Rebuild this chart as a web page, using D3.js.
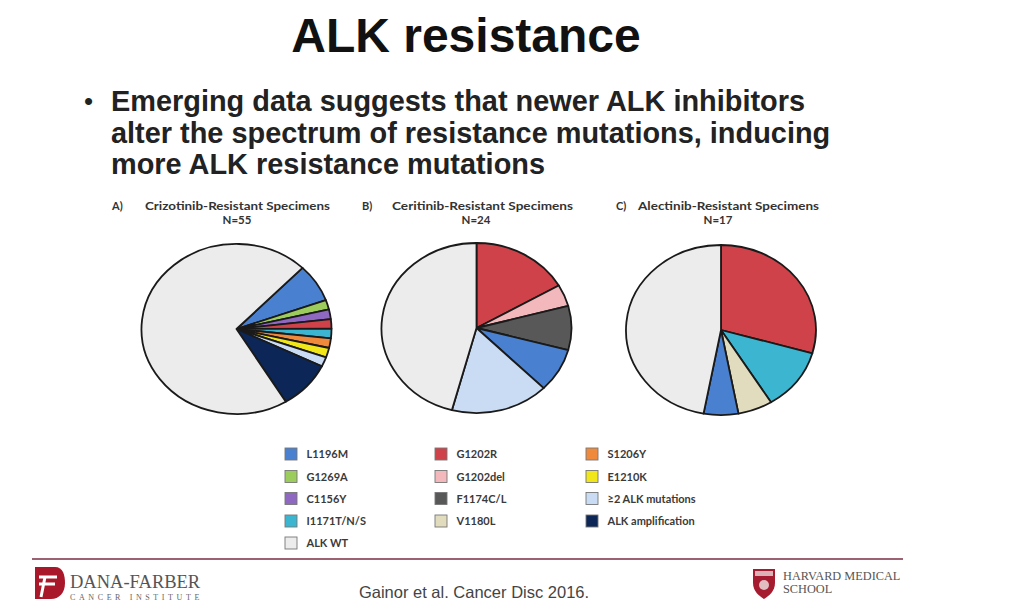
<!DOCTYPE html>
<html><head><meta charset="utf-8">
<script src="https://cdn.jsdelivr.net/npm/d3@7"></script>
<style>body{margin:0;background:#fff;} svg{display:block;}</style>
</head><body>
<svg id="c" width="1024" height="616"></svg>
<script>
// ---- data ----
const legendItems = ["L1196M","G1269A","C1156Y","I1171T/N/S","ALK WT",
  "G1202R","G1202del","F1174C/L","V1180L",
  "S1206Y","E1210K","≥2 ALK mutations","ALK amplification"];
const legendColors = ["#4a80d0","#9ccd5c","#8f68c2","#3cb6d0","#ececec",
  "#cf4249","#f2b8bb","#585858","#e2dcbf",
  "#ef8a3d","#f1e61a","#c9dcf4","#0b2657"];

const pieACats = ["L1196M","G1269A","C1156Y","G1202R","I1171T/N/S","S1206Y","E1210K","≥2 ALK mutations","ALK amplification","ALK WT"];
const pieAVals = [4,1,1,1,1,1,1,1,5,39];
const pieBCats = ["G1202R","G1202del","F1174C/L","L1196M","≥2 ALK mutations","ALK WT"];
const pieBVals = [4,1,2,2,4,11];
const pieCCats = ["G1202R","I1171T/N/S","V1180L","L1196M","ALK WT"];
const pieCVals = [5,2,1,1,8];

const pieTitles = ["Crizotinib-Resistant Specimens","Ceritinib-Resistant Specimens","Alectinib-Resistant Specimens"];
const pieLetters = ["A)","B)","C)"];
const pieN = ["N=55","N=24","N=17"];

const svg = d3.select("#c");
const color = d3.scaleOrdinal().domain(legendItems).range(legendColors);

// title
svg.append("text").attr("x",466).attr("y",52).attr("text-anchor","middle")
  .attr("font-family","Liberation Sans, Arial, sans-serif").attr("font-weight","bold")
  .attr("font-size",48).attr("fill","#111").text("ALK resistance");

// bullet
svg.append("text").attr("x",84).attr("y",110).attr("font-family","Liberation Sans, Arial, sans-serif")
  .attr("font-size",26).attr("fill","#222").text("•");
const lines = ["Emerging data suggests that newer ALK inhibitors",
  "alter the spectrum of resistance mutations, inducing",
  "more ALK resistance mutations"];
lines.forEach((t,i)=>{
  svg.append("text").attr("x",111).attr("y",111+i*31.5)
    .attr("font-family","Liberation Sans, Arial, sans-serif").attr("font-weight","bold")
    .attr("font-size",28.9).attr("fill","#222").text(t);
});

// pies
const pies = [
  {cats:pieACats, vals:pieAVals, cx:236.5, cy:329, start:44},
  {cats:pieBCats, vals:pieBVals, cx:476.5, cy:328, start:0},
  {cats:pieCCats, vals:pieCVals, cx:721, cy:330, start:0}
];
const R = 95, squash = 0.895;
const titlePos = [{lx:112, t0:145, t1:330, nx:237},{lx:362, t0:392, t1:573, nx:476},{lx:616, t0:638, t1:819, nx:718}];

pies.forEach((p,k)=>{
  const rad = p.start*Math.PI/180;
  const pie = d3.pie().sort(null).value(d=>d.v).startAngle(rad).endAngle(rad+2*Math.PI);
  const arcs = pie(p.cats.map((c,i)=>({c, v:p.vals[i]})));
  const arc = d3.arc().innerRadius(0).outerRadius(R);
  const g = svg.append("g").attr("transform",`translate(${p.cx},${p.cy}) scale(1,${squash})`);
  g.selectAll("path").data(arcs).join("path")
    .attr("d",arc).attr("fill",d=>color(d.data.c))
    .attr("stroke","#1a1a1a").attr("stroke-width",1.8)
    .attr("stroke-linejoin","round")
    .attr("vector-effect","non-scaling-stroke");
  const tp = titlePos[k];
  svg.append("text").attr("x",tp.lx).attr("y",210).attr("font-family","Lato, sans-serif")
    .attr("font-weight","bold").attr("font-size",11).attr("fill","#333").text(pieLetters[k]);
  svg.append("text").attr("x",tp.t0).attr("y",210).attr("font-family","Lato, sans-serif")
    .attr("font-weight","bold").attr("font-size",11).attr("fill","#333")
    .attr("textLength",tp.t1-tp.t0).attr("lengthAdjust","spacingAndGlyphs").text(pieTitles[k]);
  svg.append("text").attr("x",tp.nx).attr("y",224).attr("text-anchor","middle").attr("font-family","Lato, sans-serif")
    .attr("font-weight","bold").attr("font-size",11.5).attr("fill","#333").text(pieN[k]);
});

// legend
const colX = [285,435,586];
const rowY = [454,476.5,498.5,521,543];
const colOf = i => i<5?0:(i<9?1:2);
const rowOf = i => i<5?i:(i<9?i-5:i-9);
const lg = svg.append("g");
legendItems.forEach((c,i)=>{
  const x = colX[colOf(i)], y = rowY[rowOf(i)];
  lg.append("rect").attr("x",x).attr("y",y-6).attr("width",12).attr("height",12)
    .attr("fill",color(c)).attr("stroke","#777").attr("stroke-width",0.9);
  lg.append("text").attr("x",x+21.5).attr("y",y+4).attr("font-family","Lato, sans-serif")
    .attr("font-weight","bold").attr("font-size",11).attr("fill","#3a3a3a").text(c);
});

// footer line
svg.append("line").attr("x1",32).attr("x2",903).attr("y1",559).attr("y2",559)
  .attr("stroke","#9c6272").attr("stroke-width",2);

// Dana-Farber logo
const df = svg.append("g").attr("transform","translate(33,567)");
df.append("path").attr("d","M2,0 L22,0 C30,0 32,8 32,16 C32,26 26,32 18,32 L2,32 Z").attr("fill","#a8182a");
df.append("path").attr("d","M6,10 L24,10 M6,17 L22,17 M12,10 L8,30").attr("stroke","#fff").attr("stroke-width",3).attr("fill","none");
svg.append("text").attr("x",70).attr("y",588).attr("font-family","Liberation Serif, serif")
  .attr("font-size",18.5).attr("fill","#555").text("DANA-FARBER");
svg.append("text").attr("x",70).attr("y",600).attr("font-family","Liberation Serif, serif")
  .attr("font-size",8).attr("letter-spacing",3.6).attr("fill","#666").text("CANCER INSTITUTE");

// citation
svg.append("text").attr("x",474).attr("y",598).attr("text-anchor","middle")
  .attr("font-family","Liberation Sans, Arial, sans-serif").attr("font-size",16.5).attr("fill","#444")
  .text("Gainor et al. Cancer Disc 2016.");

// Harvard logo
const hv = svg.append("g").attr("transform","translate(753,569)");
hv.append("path").attr("d","M0,0 L22,0 L22,14 C22,22 16,27 11,30 C6,27 0,22 0,14 Z").attr("fill","#a51c30");
hv.append("rect").attr("x",2).attr("y",2).attr("width",18).attr("height",5).attr("fill","#e8d8d8").attr("opacity",0.8);
hv.append("circle").attr("cx",11).attr("cy",16).attr("r",5).attr("fill","#f0e6e6").attr("opacity",0.8);
svg.append("text").attr("x",783).attr("y",580).attr("font-family","Liberation Serif, serif")
  .attr("font-size",12.3).attr("fill","#555").text("HARVARD MEDICAL");
svg.append("text").attr("x",783).attr("y",593).attr("font-family","Liberation Serif, serif")
  .attr("font-size",12.3).attr("fill","#555").text("SCHOOL");
</script>
</body></html>
